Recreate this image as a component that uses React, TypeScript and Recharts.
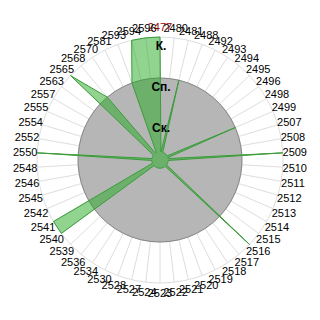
import { RadarChart, Radar, PolarGrid, PolarAngleAxis, PolarRadiusAxis } from "recharts";

const codes = [
  "2477", "2480", "2481", "2488", "2492", "2493", "2494", "2495", "2496", "2498",
  "2499", "2507", "2508", "2509", "2510", "2511", "2512", "2513", "2514", "2515",
  "2516", "2517", "2518", "2519", "2520", "2521", "2522", "2523", "2524", "2527",
  "2528", "2530", "2534", "2536", "2539", "2540", "2541", "2542", "2545", "2546",
  "2548", "2550", "2552", "2554", "2555", "2557", "2563", "2565", "2568", "2570",
  "2581", "2593", "2594", "2596",
];

// 0.2 = empty, 1 = Ск., 2 = Сп., 3 = К.
const actual = [
  3, 0.2, 2, 0.2, 0.2, 0.2, 0.2, 0.2, 0.2, 0.2,
  2, 0.2, 0.2, 3, 0.2, 0.2, 0.2, 0.2, 0.2, 0.2,
  3, 0.2, 0.2, 0.2, 0.2, 0.2, 0.2, 0.2, 0.2, 0.2,
  0.2, 0.2, 0.2, 0.2, 0.2, 3, 3, 0.2, 0.2, 0.2,
  0.2, 3, 0.2, 0.2, 0.2, 0.2, 0.2, 3, 2, 0.2,
  0.2, 2, 3, 3,
];

const baseline = codes.map(() => 2);

const levelTicks = [1, 2, 3];
const levelNames = ["", "Ск.", "Сп.", "К."];
const highlighted = "2477";

const data = codes.map((c, i) => ({ code: c, base: baseline[i], value: actual[i] }));

const CX = 160;
const CY = 160;
const R = 123;

// labels sit just outside the rim, pushed out by half their box
const AngleTick = (props: any) => {
  const { x, y, payload } = props;
  const dx = x - CX;
  const dy = y - CY;
  const d = Math.hypot(dx, dy) || 1;
  const ux = dx / d;
  const uy = dy / d;
  const px = CX + ux * (R + 3) + ux * 9;
  const py = CY + uy * (R + 3) + uy * 7;
  return (
    <text
      x={px}
      y={py}
      textAnchor="middle"
      dominantBaseline="central"
      fontSize={11}
      fontFamily="'Liberation Sans Narrow', 'Arial Narrow', Arial, sans-serif"
      fill={payload.value === highlighted ? "#990000" : "#000"}
    >
      {payload.value}
    </text>
  );
};

const LevelTick = (props: any) => {
  const { x, y, payload } = props;
  return (
    <text
      x={x + 1}
      y={y + 13}
      textAnchor="middle"
      fontSize={12}
      fontWeight="bold"
      fontFamily="Arial, 'Liberation Sans', sans-serif"
      fill="#000"
    >
      {levelNames[payload.value]}
    </text>
  );
};

export default function App() {
  return (
    <div style={{ position: "absolute", left: 0, top: 0, width: 320, height: 320, background: "#fff" }}>
      <RadarChart width={320} height={320} data={data} cx={CX} cy={CY} outerRadius={R}
        margin={{ top: 0, right: 0, bottom: 0, left: 0 }}>
        <Radar dataKey="base" stroke="#858585" strokeWidth={1} fill="#b6b6b6" fillOpacity={1}
          isAnimationActive={false} dot={false} />
        <PolarGrid gridType="circle" stroke="#dedede" />
        <Radar dataKey="value" stroke="#3a9d3a" strokeWidth={1} fill="#22aa22" fillOpacity={0.5}
          isAnimationActive={false} dot={false} />
        <PolarAngleAxis dataKey="code" tick={AngleTick} tickLine={false} axisLine={false} />
        <PolarRadiusAxis angle={90} domain={[0, 3]} ticks={levelTicks} tick={LevelTick}
          axisLine={false} tickLine={false} />
      </RadarChart>
    </div>
  );
}
